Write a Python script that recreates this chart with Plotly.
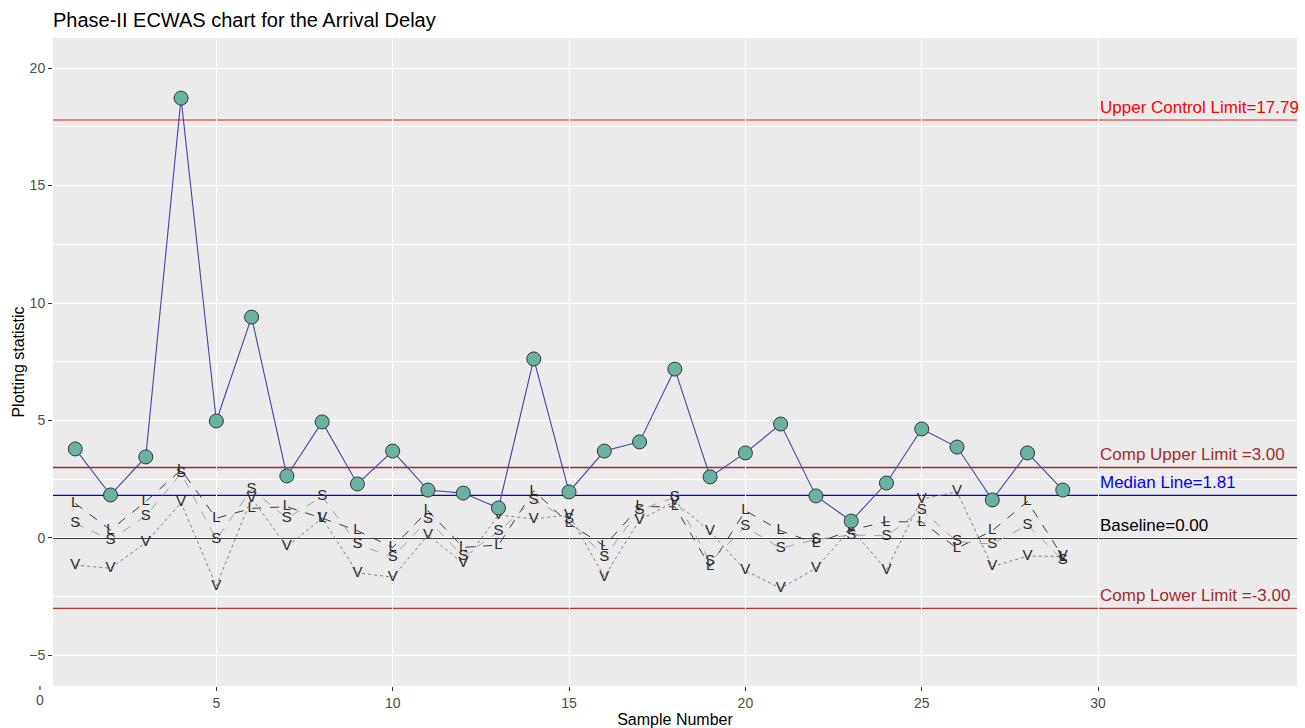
import plotly.graph_objects as go

samples = list(range(1, 30))
statistic = [3.79, 1.83, 3.45, 18.72, 4.98, 9.40, 2.64, 4.94, 2.30, 3.70,
             2.04, 1.91, 1.28, 7.62, 1.96, 3.70, 4.09, 7.19, 2.60, 3.62,
             4.85, 1.79, 0.72, 2.34, 4.64, 3.87, 1.62, 3.62, 2.04]
comp_L = [1.47, 0.34, 1.55, 2.90, 0.84, 1.26, 1.33, 0.84, 0.31, -0.40,
          1.16, -0.40, -0.30, 2.01, 0.62, -0.34, 1.33, 1.33, -1.22, 1.16,
          0.31, -0.23, 0.34, 0.69, 0.69, -0.44, 0.31, 1.55, -0.80]
comp_S = [0.62, -0.08, 0.94, 2.75, -0.06, 2.07, 0.84, 1.76, -0.26, -0.82,
          0.79, -0.79, 0.27, 1.62, 0.79, -0.82, 1.19, 1.73, -1.01, 0.48,
          -0.44, -0.06, 0.13, 0.09, 1.19, -0.16, -0.26, 0.55, -0.94]
comp_V = [-1.15, -1.29, -0.20, 1.50, -2.04, 1.69, -0.37, 0.84, -1.48, -1.67,
          0.13, -1.08, 0.98, 0.81, 0.98, -1.65, 0.77, 1.55, 0.27, -1.39,
          -2.14, -1.29, 0.40, -1.36, 1.65, 1.97, -1.22, -0.77, -0.79]

ucl = 17.79
comp_upper = 3.00
median_line = 1.81
baseline = 0.00
comp_lower = -3.00

x_range = [0.369, 35.64]
y_range = [-6.3, 21.28]
x_ticks = [5, 10, 15, 20, 25, 30]
y_ticks = [-5, 0, 5, 10, 15, 20]

FONT = "Liberation Sans, Arial"
fig = go.Figure()

# reference lines
ref_lines = [
    (ucl, "#F26262", "Upper Control Limit=17.79", "#FF0000"),
    (comp_upper, "#A52A2A", "Comp Upper Limit =3.00", "#A52A2A"),
    (median_line, "#0000FF", "Median Line=1.81", "#0000FF"),
    (baseline, "#000000", "Baseline=0.00", "#000000"),
    (comp_lower, "#C0302C", "Comp Lower Limit =-3.00", "#A52A2A"),
]
for yv, lc, txt, tc in ref_lines:
    fig.add_hline(y=yv, line=dict(color=lc, width=1.3), layer="below")
    fig.add_annotation(x=30, y=yv, xref="x", yref="y", text=txt, showarrow=False,
                       xanchor="left", yanchor="bottom", yshift=1,
                       font=dict(family=FONT, size=17, color=tc))

comp_specs = [
    ("L", comp_L, "#3a3a3a", "dash"),
    ("S", comp_S, "#a0a0a0", "dash"),
    ("V", comp_V, "#808080", "dot"),
]
for name, vals, col, dash in comp_specs:
    fig.add_trace(go.Scatter(
        x=samples, y=vals, mode="lines+text", text=[name] * len(vals),
        textposition="middle center",
        textfont=dict(family=FONT, size=15, color="#2a2a2a"),
        line=dict(color=col, width=1, dash=dash), showlegend=False,
        cliponaxis=False))

fig.add_trace(go.Scatter(
    x=samples, y=statistic, mode="lines+markers",
    line=dict(color="#4343a8", width=1.1),
    marker=dict(size=14, color="#69B3A2", line=dict(color="#333333", width=1)),
    showlegend=False))

# the "0" x tick sits outside the panel in the reference
x0_paper = (0 - x_range[0]) / (x_range[1] - x_range[0])
fig.add_annotation(x=x0_paper, y=0, xref="paper", yref="paper", text="0",
                   showarrow=False, xanchor="center", yanchor="top", yshift=-4,
                   font=dict(family=FONT, size=14, color="#4D4D4D"))
fig.add_shape(type="line", xref="paper", yref="paper", x0=x0_paper, x1=x0_paper,
              ysizemode="pixel", yanchor=0, y0=0, y1=-4,
              line=dict(color="#333333", width=1.1))

fig.update_layout(
    width=1305, height=728,
    margin=dict(l=53, r=8, t=38, b=42, autoexpand=False),
    paper_bgcolor="white", plot_bgcolor="#EBEBEB",
    title=dict(text="Phase-II ECWAS chart for the Arrival Delay",
               x=53 / 1305, xanchor="left", y=1 - 20 / 728, yanchor="middle",
               font=dict(family=FONT, size=20, color="black")),
    font=dict(family=FONT),
)
fig.update_xaxes(range=x_range, tickvals=x_ticks, ticks="outside", ticklen=4,
                 tickcolor="#333333", tickfont=dict(size=14, color="#4D4D4D"),
                 showgrid=True, gridcolor="white", gridwidth=1.2, zeroline=False,
                 automargin=False,
                 title=dict(text="Sample Number", standoff=4,
                            font=dict(size=16, color="black")))
fig.update_yaxes(range=y_range, tickvals=y_ticks, ticks="outside", ticklen=4,
                 tickcolor="#333333", tickfont=dict(size=14, color="#4D4D4D"),
                 showgrid=True, gridcolor="white", gridwidth=1.2, zeroline=False,
                 automargin=False,
                 minor=dict(tickvals=[-2.5, 2.5, 7.5, 12.5, 17.5], showgrid=True,
                            gridcolor="white", gridwidth=0.6, ticks=""),
                 title=dict(text="Plotting statistic", standoff=0,
                            font=dict(size=16, color="black")))

fig.write_html("out.html", config={"displayModeBar": False},
               post_script="document.body.style.margin='0px';document.body.style.overflow='hidden';")
